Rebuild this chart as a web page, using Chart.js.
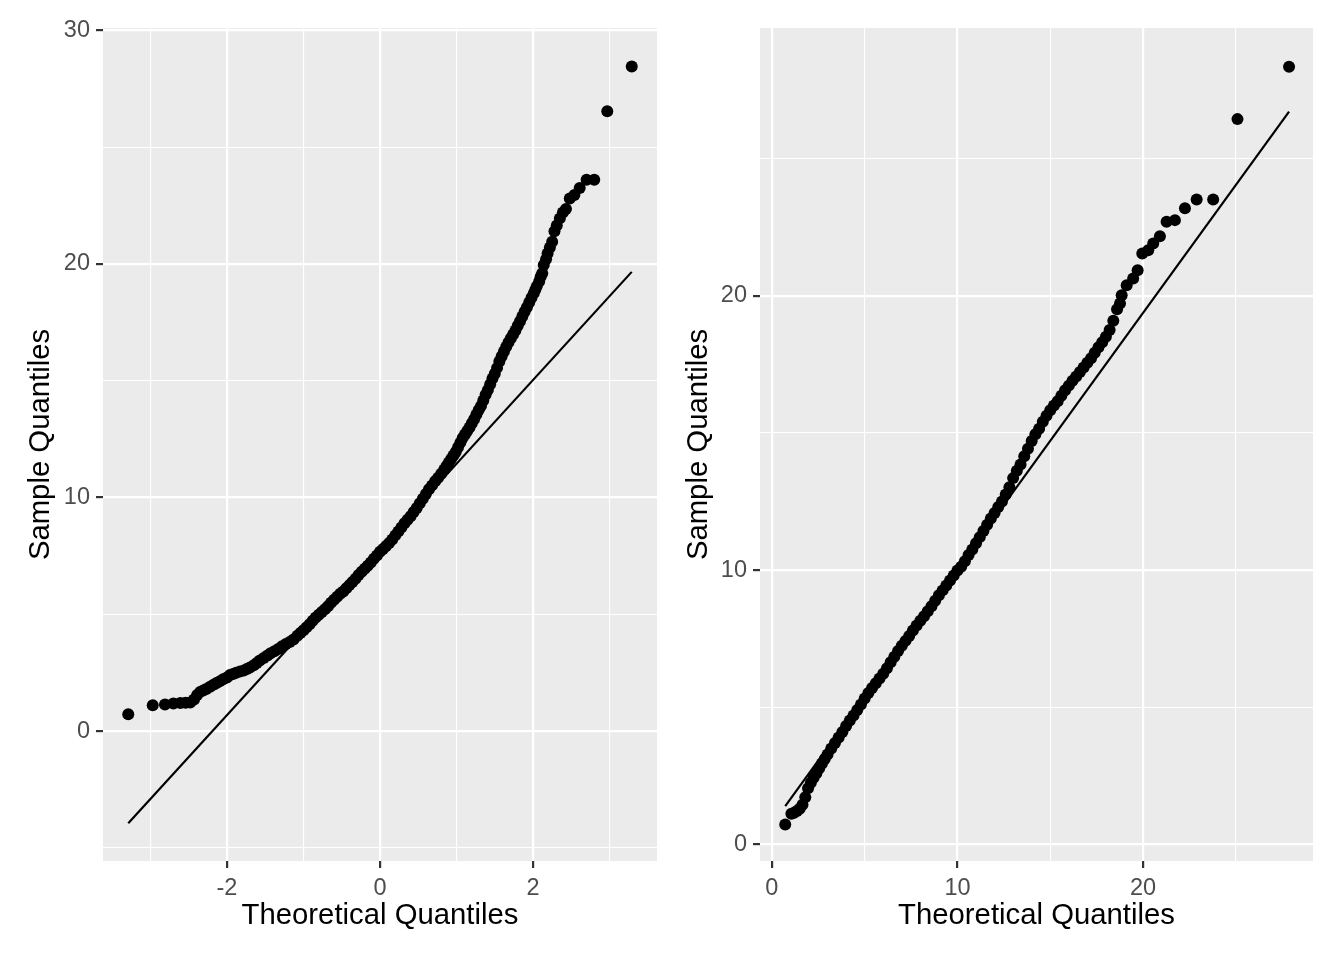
<!DOCTYPE html>
<html>
<head>
<meta charset="utf-8">
<title>QQ plots</title>
<script src="https://cdn.jsdelivr.net/npm/chart.js@4.4.1/dist/chart.umd.min.js"></script>
<style>
  html, body { margin: 0; padding: 0; background: #fff; }
  #wrap { position: relative; width: 1344px; height: 960px; }
  canvas { position: absolute; top: 0; }
  #leftChart { left: 0; }
  #rightChart { left: 672px; }
</style>
</head>
<body>
<div id="wrap">
  <canvas id="leftChart" width="672" height="960"></canvas>
  <canvas id="rightChart" width="672" height="960"></canvas>
</div>
<script>
// left panel: sample vs normal theoretical quantiles
const normTheo = [
  -3.29, -2.97, -2.81, -2.70, -2.61, -2.54, -2.48, -2.43, -2.39, -2.35,
  -2.31, -2.27, -2.22, -2.17, -2.13, -2.09, -2.05, -2.00, -1.96, -1.92,
  -1.88, -1.83, -1.78, -1.74, -1.70, -1.65, -1.61, -1.57, -1.52, -1.47,
  -1.43, -1.38, -1.33, -1.28, -1.23, -1.18, -1.13, -1.08, -1.04, -1.00,
  -0.96, -0.92, -0.88, -0.84, -0.80, -0.76, -0.72, -0.68, -0.64, -0.60,
  -0.56, -0.52, -0.48, -0.44, -0.40, -0.36, -0.32, -0.28, -0.24, -0.20,
  -0.16, -0.12, -0.08, -0.04, 0.00, 0.04, 0.08, 0.12, 0.16, 0.20,
  0.24, 0.28, 0.32, 0.36, 0.40, 0.44, 0.48, 0.52, 0.56, 0.60,
  0.64, 0.68, 0.72, 0.76, 0.80, 0.84, 0.87, 0.90, 0.93, 0.96,
  0.99, 1.02, 1.05, 1.08, 1.11, 1.14, 1.17, 1.20, 1.23, 1.26,
  1.29, 1.32, 1.35, 1.38, 1.41, 1.44, 1.47, 1.50, 1.53, 1.56,
  1.59, 1.62, 1.65, 1.68, 1.71, 1.74, 1.77, 1.80, 1.83, 1.86,
  1.89, 1.92, 1.95, 1.98, 2.01, 2.03, 2.05, 2.08, 2.10, 2.12,
  2.14, 2.17, 2.19, 2.22, 2.25, 2.28, 2.31, 2.35, 2.39, 2.43,
  2.48, 2.54, 2.61, 2.70, 2.80, 2.97, 3.29
];
const normSample = [
  0.72, 1.11, 1.14, 1.18, 1.20, 1.21, 1.22, 1.35, 1.55, 1.68,
  1.74, 1.80, 1.90, 2.00, 2.07, 2.14, 2.22, 2.30, 2.40, 2.45,
  2.50, 2.55, 2.60, 2.66, 2.72, 2.82, 2.92, 3.02, 3.13, 3.24,
  3.33, 3.42, 3.52, 3.63, 3.73, 3.82, 3.92, 4.08, 4.20, 4.32,
  4.45, 4.58, 4.72, 4.86, 4.98, 5.10, 5.22, 5.35, 5.50, 5.62,
  5.75, 5.88, 5.98, 6.12, 6.25, 6.38, 6.52, 6.68, 6.82, 6.95,
  7.08, 7.22, 7.38, 7.52, 7.68, 7.80, 7.92, 8.05, 8.20, 8.38,
  8.55, 8.72, 8.90, 9.05, 9.20, 9.38, 9.55, 9.75, 9.95, 10.15,
  10.35, 10.52, 10.70, 10.85, 11.02, 11.20, 11.35, 11.50, 11.65, 11.80,
  11.95, 12.15, 12.35, 12.55, 12.70, 12.85, 13.00, 13.18, 13.35, 13.55,
  13.75, 13.92, 14.15, 14.40, 14.60, 14.85, 15.10, 15.30, 15.55, 15.82,
  16.05, 16.25, 16.45, 16.65, 16.82, 16.98, 17.15, 17.35, 17.55, 17.75,
  17.95, 18.15, 18.35, 18.55, 18.75, 18.90, 19.05, 19.25, 19.45, 19.60,
  19.95, 20.20, 20.45, 20.70, 20.95, 21.40, 21.65, 21.95, 22.20, 22.35,
  22.80, 22.95, 23.25, 23.60, 23.60, 26.54, 28.45
];
const normLineX = [-3.29, 3.29];
const normLineY = [-3.94, 19.66];

// right panel: sample vs fitted-distribution theoretical quantiles
const fitTheo = [
  0.72, 1.05, 1.20, 1.35, 1.50, 1.65, 1.80, 1.95, 2.10, 2.25,
  2.40, 2.55, 2.70, 2.85, 3.00, 3.20, 3.40, 3.60, 3.80, 4.00,
  4.20, 4.40, 4.60, 4.80, 5.00, 5.20, 5.40, 5.60, 5.80, 6.00,
  6.20, 6.40, 6.60, 6.80, 7.00, 7.20, 7.40, 7.60, 7.80, 8.00,
  8.20, 8.40, 8.60, 8.80, 9.00, 9.20, 9.40, 9.60, 9.80, 10.00,
  10.20, 10.40, 10.60, 10.80, 11.00, 11.20, 11.40, 11.60, 11.80, 12.00,
  12.20, 12.40, 12.60, 12.80, 13.00, 13.20, 13.40, 13.60, 13.80, 14.00,
  14.20, 14.40, 14.60, 14.80, 15.00, 15.20, 15.40, 15.60, 15.80, 16.00,
  16.20, 16.40, 16.60, 16.80, 17.00, 17.20, 17.40, 17.60, 17.80, 18.00,
  18.20, 18.40, 18.60, 18.76, 18.85, 19.12, 19.47, 19.71, 19.96, 20.28,
  20.55, 20.91, 21.27, 21.72, 22.26, 22.89, 23.78, 25.09, 27.87
];
const fitSample = [
  0.73, 1.12, 1.16, 1.22, 1.30, 1.45, 1.72, 2.05, 2.25, 2.43,
  2.60, 2.78, 2.95, 3.12, 3.28, 3.50, 3.70, 3.90, 4.10, 4.32,
  4.52, 4.70, 4.90, 5.10, 5.32, 5.52, 5.70, 5.88, 6.05, 6.22,
  6.42, 6.64, 6.84, 7.05, 7.24, 7.42, 7.60, 7.80, 7.98, 8.15,
  8.32, 8.50, 8.68, 8.88, 9.08, 9.26, 9.44, 9.62, 9.80, 9.98,
  10.12, 10.32, 10.55, 10.75, 10.98, 11.20, 11.42, 11.65, 11.88, 12.08,
  12.30, 12.50, 12.75, 13.02, 13.35, 13.62, 13.85, 14.15, 14.42, 14.70,
  14.95, 15.15, 15.40, 15.62, 15.82, 16.00, 16.15, 16.35, 16.55, 16.72,
  16.90, 17.05, 17.22, 17.38, 17.55, 17.72, 17.92, 18.12, 18.30, 18.50,
  18.75, 19.08, 19.50, 19.71, 20.01, 20.38, 20.62, 20.92, 21.53, 21.65,
  21.90, 22.16, 22.69, 22.75, 23.18, 23.50, 23.50, 26.43, 28.34
];
const fitLineX = [0.72, 27.87];
const fitLineY = [1.40, 26.70];

// axis breaks
const leftXMajor = [-2, 0, 2];
const leftXMinor = [-3, -1, 1, 3];
const leftYMajor = [0, 10, 20, 30];
const leftYMinor = [-5, 5, 15, 25];
const rightXMajor = [0, 10, 20];
const rightXMinor = [5, 15, 25];
const rightYMajor = [0, 10, 20];
const rightYMinor = [5, 15, 25];

const xTitle = 'Theoretical Quantiles';
const yTitle = 'Sample Quantiles';

const FONT = '"Liberation Sans", Arial, Helvetica, sans-serif';

const panelBg = {
  id: 'panelBg',
  beforeDraw(chart) {
    const a = chart.chartArea, ctx = chart.ctx;
    ctx.save();
    ctx.fillStyle = '#EBEBEB';
    ctx.fillRect(a.left, a.top, a.right - a.left, a.bottom - a.top);
    ctx.restore();
  }
};

function makeAxis(o) {
  const all = o.major.concat(o.minor).sort((a, b) => a - b);
  const isMajor = v => o.major.indexOf(v) !== -1;
  return {
    type: 'linear',
    position: o.position,
    min: o.min,
    max: o.max,
    afterBuildTicks: s => { s.ticks = all.map(v => ({ value: v })); },
    afterFit: s => {
      if (o.position === 'left') s.width = o.size; else s.height = o.size;
    },
    grid: {
      color: '#FFFFFF',
      lineWidth: c => (c.tick && isMajor(c.tick.value)) ? 2.2 : 1.1,
      drawTicks: true,
      tickLength: 7,
      tickWidth: 2.2,
      tickColor: c => (c.tick && isMajor(c.tick.value)) ? '#333333' : 'rgba(0,0,0,0)'
    },
    border: { display: false },
    ticks: {
      autoSkip: false,
      maxRotation: 0,
      minRotation: 0,
      padding: 6,
      color: '#4D4D4D',
      font: { family: FONT, size: 23.5 },
      callback: v => isMajor(v) ? String(v) : ''
    },
    title: {
      display: true,
      text: o.title,
      color: '#000000',
      font: { family: FONT, size: 29.3 },
      padding: o.titlePad
    }
  };
}

function pairs(xs, ys) {
  return xs.map((x, i) => ({ x: x, y: ys[i] }));
}

function makePanel(id, p) {
  new Chart(document.getElementById(id), {
    type: 'scatter',
    data: {
      datasets: [
        {
          data: pairs(p.lineX, p.lineY),
          showLine: true,
          borderColor: '#000000',
          borderWidth: 2.2,
          pointRadius: 0,
          order: 0
        },
        {
          data: pairs(p.theo, p.sample),
          backgroundColor: '#000000',
          borderWidth: 0,
          pointRadius: 6,
          pointHoverRadius: 6,
          order: 1
        }
      ]
    },
    options: {
      responsive: false,
      animation: false,
      devicePixelRatio: 1,
      events: [],
      layout: { padding: { top: 28, right: p.padRight, bottom: 0, left: 0 } },
      plugins: { legend: { display: false }, tooltip: { enabled: false } },
      scales: {
        x: makeAxis({ position: 'bottom', min: p.xMin, max: p.xMax, major: p.xMajor, minor: p.xMinor,
                      size: 99, title: xTitle, titlePad: { top: 0, bottom: 27 } }),
        y: makeAxis({ position: 'left', min: p.yMin, max: p.yMax, major: p.yMajor, minor: p.yMinor,
                      size: p.yWidth, title: yTitle, titlePad: { top: p.yTitlePad, bottom: 0 } })
      }
    },
    plugins: [panelBg]
  });
}

makePanel('leftChart', {
  theo: normTheo, sample: normSample, lineX: normLineX, lineY: normLineY,
  xMin: -3.62, xMax: 3.62, yMin: -5.56, yMax: 30.1,
  xMajor: leftXMajor, xMinor: leftXMinor, yMajor: leftYMajor, yMinor: leftYMinor,
  yWidth: 103, padRight: 15, yTitlePad: 23
});

makePanel('rightChart', {
  theo: fitTheo, sample: fitSample, lineX: fitLineX, lineY: fitLineY,
  xMin: -0.64, xMax: 29.16, yMin: -0.6, yMax: 29.75,
  xMajor: rightXMajor, xMinor: rightXMinor, yMajor: rightYMajor, yMinor: rightYMinor,
  yWidth: 88, padRight: 31, yTitlePad: 9.4
});
</script>
</body>
</html>
